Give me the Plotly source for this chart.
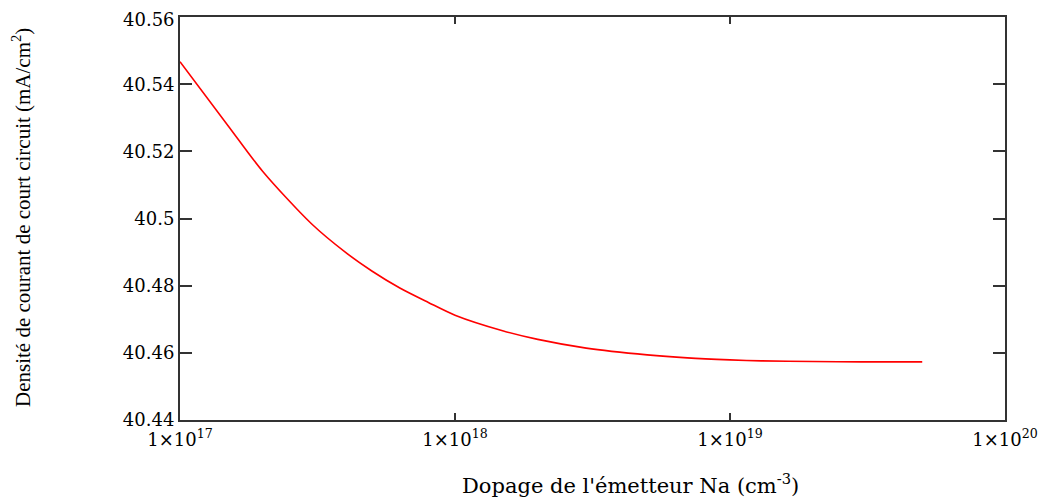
import plotly.graph_objects as go

# Data
na_doping = [1e17, 1.5e17, 2e17, 3e17, 4e17, 5e17, 6.3e17, 8e17, 1e18, 1.5e18,
             2e18, 3e18, 5e18, 7e18, 1e19, 1.3e19, 2e19, 3e19, 5e19]
jsc = [40.5467, 40.5275, 40.5140, 40.4985, 40.4899, 40.4843, 40.4793, 40.4750,
       40.4712, 40.4665, 40.4640, 40.4614, 40.4594, 40.4585, 40.4579, 40.4576,
       40.4574, 40.4573, 40.4573]

x_tickvals = [1e17, 1e18, 1e19, 1e20]
x_ticktext = ["1\u00d710<sup>17</sup>", "1\u00d710<sup>18</sup>",
              "1\u00d710<sup>19</sup>", "1\u00d710<sup>20</sup>"]
y_tickvals = [40.44, 40.46, 40.48, 40.50, 40.52, 40.54, 40.56]
y_ticktext = ["40.44", "40.46", "40.48", "40.5", "40.52", "40.54", "40.56"]

x_title = "Dopage de l'\u00e9metteur Na (cm<sup>-3</sup>)"
y_title = "Densit\u00e9 de courant de court circuit (mA/cm<sup>2</sup>)"

# page body has an 8px margin, so the figure is sized to fit the window
OFF = 8
W, H = 1052 - OFF, 498 - OFF
ML, MR, MT, MB = 180 - OFF, 47, 17 - OFF, 78
PW, PH = W - ML - MR, H - MT - MB

fig = go.Figure()
fig.add_trace(go.Scatter(x=na_doping, y=jsc, mode="lines",
                         line=dict(color="#ff0000", width=1.6, shape="spline",
                                   smoothing=0.8),
                         showlegend=False))

axis_font = dict(family="DejaVu Serif", size=18, color="#000")

# the top label (40.56) sits at the very edge of the figure, where plotly drops it,
# so it is drawn as a text annotation at the same spot instead
y_axis_text = y_ticktext[:-1] + [""]

fig.update_layout(
    width=W, height=H,
    margin=dict(l=ML, r=MR, t=MT, b=MB, autoexpand=False),
    paper_bgcolor="white", plot_bgcolor="white",
    xaxis=dict(type="log", range=[17, 20], tickvals=x_tickvals, ticktext=x_ticktext,
               ticks="inside", ticklen=7, tickwidth=2, tickcolor="#333",
               showline=True, linecolor="#333", linewidth=2, mirror="ticks",
               showgrid=False, zeroline=False, tickfont=axis_font,
               ticklabelstandoff=2),
    yaxis=dict(range=[40.43999, 40.56001], tickvals=y_tickvals, ticktext=y_axis_text,
               ticks="inside", ticklen=12, tickwidth=2, tickcolor="#333",
               showline=True, linecolor="#333", linewidth=2, mirror="ticks",
               showgrid=False, zeroline=False, tickfont=axis_font,
               ticklabelstandoff=0),
    annotations=[
        dict(text=y_ticktext[-1], xref="paper", yref="y",
             x=0, y=y_tickvals[-1], xanchor="right", yanchor="middle",
             xshift=-3, yshift=-2, showarrow=False, font=axis_font),
        dict(text=x_title, xref="paper", yref="paper",
             x=(630 - OFF - ML) / PW, y=-(476 - (H - MB)) / PH,
             xanchor="center", yanchor="middle", showarrow=False,
             font=dict(family="DejaVu Serif", size=21, color="#000")),
        dict(text=y_title, xref="paper", yref="paper", textangle=-90,
             x=(21 - OFF - ML) / PW, y=((H - MB) - (218 - OFF)) / PH,
             xanchor="center", yanchor="middle", showarrow=False,
             font=dict(family="Liberation Serif", size=21, color="#000")),
    ],
)

fig.write_html("out.html")
